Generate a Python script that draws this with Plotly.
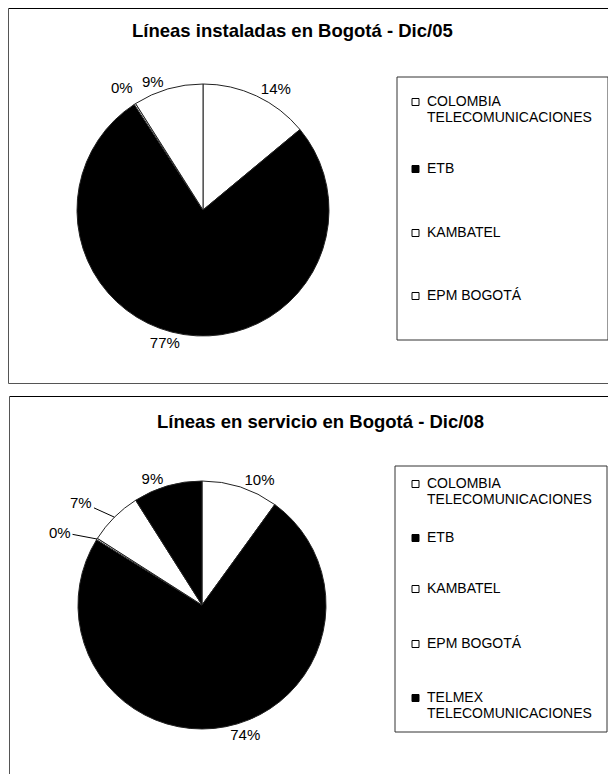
import math
import plotly.graph_objects as go

# page body has an 8px margin: figure origin sits at page (8, 8)
OFF = 8
W, H = 608, 766

# ---- data ----
companies_05 = ["COLOMBIA<br>TELECOMUNICACIONES", "ETB", "KAMBATEL", "EPM BOGOTÁ"]
values_05 = [14, 77, 0.2, 9]
colors_05 = ["white", "black", "white", "white"]

companies_08 = ["COLOMBIA<br>TELECOMUNICACIONES", "ETB", "KAMBATEL", "EPM BOGOTÁ",
                "TELMEX<br>TELECOMUNICACIONES"]
values_08 = [10, 74, 0.2, 7, 9]
colors_08 = ["white", "black", "white", "white", "black"]

title_05 = "Líneas instaladas en Bogotá - Dic/05"
title_08 = "Líneas en servicio en Bogotá - Dic/08"

FONT = "Liberation Sans, Arial, sans-serif"
EDGE = "#222222"
FRAME = "#555555"


def px_x(x):
    return (x - OFF) / W


def px_y(y):
    return 1 - (y - OFF) / H


def pct_text(values):
    tot = sum(values)
    return [f"{round(v / tot * 100)}%" for v in values]


# ---- layout geometry (page pixels) ----
C05, R05 = (203, 210), 126
C08, R08 = (202, 605), 124
LEG05_BOX = (397, 77, 608, 340)
LEG08_BOX = (395, 466, 607, 732)
LEG05_Y = [101, 168, 232, 295]          # first-line centre of each legend entry
LEG08_Y = [483, 537, 588, 643, 697]
LEG_MARK_X = 415.5
LEG_TEXT_X = 425
LEG_LINE = 16
MARK = 7

annotations = []
shapes = []


def add_pie(labels, values, colors, center, radius, special):
    """special: {slice index: (dx, dy, arrow)} labels placed manually near their slice"""
    txt = pct_text(values)
    txt_pie = [("" if i in special else t) for i, t in enumerate(txt)]
    fig.add_trace(go.Pie(
        labels=labels, values=values, sort=False, direction="clockwise",
        rotation=0, marker=dict(colors=colors, line=dict(color=EDGE, width=1)),
        textposition="outside", text=txt_pie, textinfo="text",
        outsidetextfont=dict(family=FONT, size=15, color="black"),
        domain=dict(x=[px_x(center[0] - radius), px_x(center[0] + radius)],
                    y=[px_y(center[1] + radius), px_y(center[1] - radius)]),
        showlegend=False, hoverinfo="label+percent",
    ))
    tot = sum(values)
    cum = 0
    for i, v in enumerate(values):
        mid = (cum + v / 2) / tot * 2 * math.pi
        cum += v
        if i not in special:
            continue
        tipx = center[0] + radius * math.sin(mid)
        tipy = center[1] - radius * math.cos(mid)
        dx, dy, arrow = special[i]
        if arrow:
            annotations.append(dict(
                text=txt[i], x=px_x(tipx), y=px_y(tipy), xref="paper", yref="paper",
                showarrow=True, arrowhead=0, arrowwidth=1, arrowcolor="black", standoff=0,
                ax=dx, ay=dy, font=dict(family=FONT, size=15, color="black"),
            ))
        else:
            annotations.append(dict(
                text=txt[i], x=px_x(tipx + dx), y=px_y(tipy + dy), xref="paper", yref="paper",
                showarrow=False, xanchor="center", yanchor="middle",
                font=dict(family=FONT, size=15, color="black"),
            ))


fig = go.Figure()
add_pie(companies_05, values_05, colors_05, C05, R05, {2: (-13, -16, False)})
add_pie(companies_08, values_08, colors_08, C08, R08, {2: (-37, -7, True), 3: (-33, -15, True)})


def line(x0, y0, x1, y1, color, width=1):
    shapes.append(dict(type="line", xref="paper", yref="paper",
                       x0=px_x(x0), y0=px_y(y0), x1=px_x(x1), y1=px_y(y1),
                       line=dict(color=color, width=width)))


# outer chart frames (open on the right, as in the scan)
line(8.5, 8.5, 616, 8.5, "black")
line(8.5, 8.5, 8.5, 383.5, FRAME)
line(8.5, 383.5, 616, 383.5, FRAME)
line(9.5, 396.5, 616, 396.5, "black")
line(9.5, 396.5, 9.5, 774, FRAME)


def legend_block(box, ys, labels, colors):
    x0, y0, x1, y1 = box
    shapes.append(dict(type="rect", xref="paper", yref="paper",
                       x0=px_x(x0), x1=px_x(x1), y0=px_y(y1), y1=px_y(y0),
                       line=dict(color="#333333", width=1), fillcolor="rgba(0,0,0,0)"))
    for yc, lab, col in zip(ys, labels, colors):
        shapes.append(dict(type="rect", xref="paper", yref="paper",
                           x0=px_x(LEG_MARK_X - MARK / 2), x1=px_x(LEG_MARK_X + MARK / 2),
                           y0=px_y(yc + 1 + MARK / 2), y1=px_y(yc + 1 - MARK / 2),
                           line=dict(color="black", width=1), fillcolor=col))
        for k, part in enumerate(lab.split("<br>")):
            annotations.append(dict(
                text=part, x=px_x(LEG_TEXT_X), y=px_y(yc + k * LEG_LINE),
                xref="paper", yref="paper", showarrow=False, xanchor="left", yanchor="middle",
                font=dict(family=FONT, size=14, color="black")))


legend_block(LEG05_BOX, LEG05_Y, companies_05, colors_05)
legend_block(LEG08_BOX, LEG08_Y, companies_08, colors_08)

annotations += [
    dict(text="<b>" + title_05 + "</b>", x=px_x(292.5), y=px_y(30), xref="paper", yref="paper",
         showarrow=False, font=dict(family=FONT, size=18.5, color="black"), xanchor="center", yanchor="middle"),
    dict(text="<b>" + title_08 + "</b>", x=px_x(320), y=px_y(421), xref="paper", yref="paper",
         showarrow=False, font=dict(family=FONT, size=18.5, color="black"), xanchor="center", yanchor="middle"),
]

fig.update_layout(
    width=W, height=H, autosize=False,
    margin=dict(l=0, r=0, t=0, b=0),
    paper_bgcolor="white", plot_bgcolor="white",
    shapes=shapes, annotations=annotations,
    showlegend=False,
)

fig.write_html("out.html")
